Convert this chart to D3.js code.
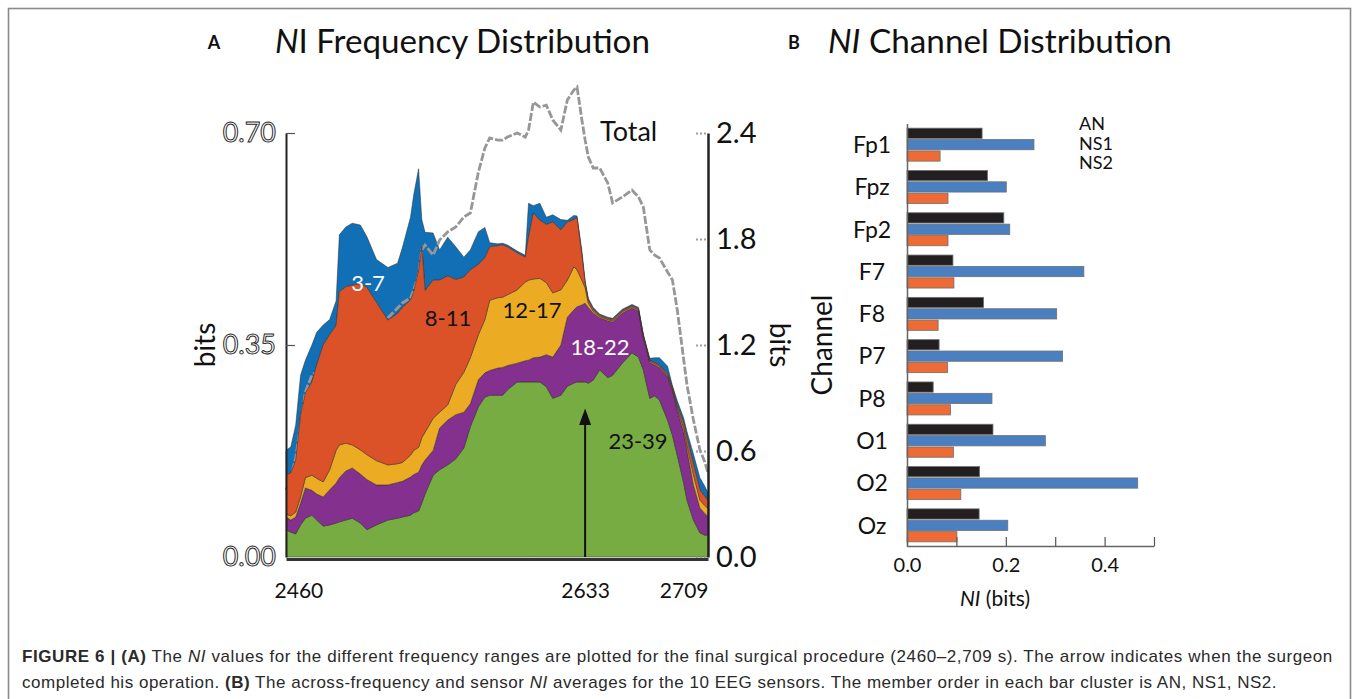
<!DOCTYPE html>
<html>
<head>
<meta charset="utf-8">
<script src="https://cdn.jsdelivr.net/npm/d3@7"></script>
<style>
  body { margin: 0; background: #fff; }
  svg text { font-family: Lato, "Open Sans", sans-serif; }
</style>
</head>
<body>
<script>

// ---- panel A data (bits per frequency band, stacked) ----
var times = [
  2448, 2451, 2454, 2457, 2460, 2464, 2467, 2471, 2475, 2479,
  2481, 2485, 2489, 2494, 2498, 2504, 2511, 2517, 2520, 2525,
  2527, 2530, 2532, 2534, 2539, 2543, 2548, 2553, 2558, 2562,
  2567, 2571, 2574, 2579, 2582, 2585, 2591, 2596, 2598, 2601,
  2605, 2609, 2613, 2618, 2622, 2626, 2628, 2631, 2633, 2635,
  2638, 2642, 2647, 2650, 2656, 2662, 2666, 2669, 2673, 2676,
  2679, 2684, 2687, 2690, 2694, 2696, 2700, 2704, 2707, 2709]

var band23_39 = [
  0.045, 0.041, 0.038, 0.053, 0.064, 0.069, 0.061, 0.051, 0.053, 0.056,
  0.058, 0.061, 0.064, 0.056, 0.045, 0.053, 0.061, 0.064, 0.066, 0.069,
  0.073, 0.076, 0.089, 0.104, 0.135, 0.144, 0.152, 0.162, 0.180, 0.215,
  0.248, 0.264, 0.267, 0.267, 0.267, 0.276, 0.289, 0.289, 0.289, 0.289,
  0.289, 0.281, 0.262, 0.267, 0.282, 0.287, 0.289, 0.289, 0.289, 0.287,
  0.292, 0.309, 0.296, 0.300, 0.320, 0.337, 0.330, 0.309, 0.262, 0.266,
  0.259, 0.226, 0.201, 0.168, 0.122, 0.094, 0.061, 0.040, 0.036, 0.036]

var band18_22 = [
  0.021, 0.020, 0.028, 0.036, 0.050, 0.041, 0.043, 0.048, 0.058, 0.066,
  0.073, 0.081, 0.083, 0.081, 0.083, 0.066, 0.058, 0.059, 0.059, 0.063,
  0.063, 0.064, 0.063, 0.056, 0.041, 0.069, 0.074, 0.073, 0.059, 0.038,
  0.045, 0.040, 0.041, 0.045, 0.046, 0.040, 0.031, 0.035, 0.036, 0.040,
  0.041, 0.053, 0.068, 0.083, 0.114, 0.121, 0.124, 0.127, 0.130, 0.125,
  0.111, 0.086, 0.094, 0.088, 0.083, 0.074, 0.076, 0.053, 0.059, 0.051,
  0.054, 0.071, 0.074, 0.074, 0.084, 0.083, 0.058, 0.041, 0.036, 0.031]

var band12_17 = [
  0.005, 0.007, 0.008, 0.010, 0.017, 0.025, 0.026, 0.025, 0.033, 0.054,
  0.054, 0.046, 0.038, 0.040, 0.041, 0.040, 0.033, 0.031, 0.031, 0.036,
  0.040, 0.041, 0.045, 0.046, 0.053, 0.026, 0.025, 0.050, 0.066, 0.076,
  0.074, 0.088, 0.116, 0.116, 0.116, 0.117, 0.121, 0.130, 0.132, 0.130,
  0.130, 0.119, 0.106, 0.091, 0.061, 0.071, 0.061, 0.041, 0.026, 0.007,
  0.003, 0.002, 0.002, 0.002, 0.002, 0.002, 0.002, 0.002, 0.002, 0.002,
  0.002, 0.002, 0.002, 0.003, 0.007, 0.008, 0.017, 0.013, 0.013, 0.013]

var band8_11 = [
  0.064, 0.071, 0.086, 0.135, 0.140, 0.154, 0.187, 0.226, 0.223, 0.206,
  0.253, 0.258, 0.264, 0.274, 0.276, 0.261, 0.239, 0.248, 0.256, 0.256,
  0.262, 0.292, 0.315, 0.234, 0.228, 0.218, 0.213, 0.173, 0.157, 0.145,
  0.116, 0.102, 0.088, 0.086, 0.086, 0.079, 0.061, 0.041, 0.071, 0.109,
  0.096, 0.096, 0.117, 0.099, 0.096, 0.078, 0.086, 0.041, 0.007, 0.005,
  0.003, 0.002, 0.002, 0.002, 0.002, 0.002, 0.002, 0.002, 0.002, 0.002,
  0.002, 0.003, 0.003, 0.005, 0.008, 0.012, 0.017, 0.017, 0.015, 0.013]

var band3_7 = [
  0.041, 0.043, 0.058, 0.066, 0.054, 0.061, 0.054, 0.033, 0.025, 0.041,
  0.094, 0.099, 0.102, 0.097, 0.084, 0.071, 0.087, 0.083, 0.099, 0.137,
  0.160, 0.168, 0.045, 0.096, 0.078, 0.050, 0.064, 0.054, 0.033, 0.033,
  0.054, 0.050, 0.007, 0.003, 0.003, 0.003, 0.003, 0.003, 0.056, 0.012,
  0.028, 0.012, 0.012, 0.017, 0.003, 0.007, 0.003, 0.008, 0.005, 0.003,
  0.003, 0.002, 0.002, 0.002, 0.002, 0.002, 0.002, 0.002, 0.003, 0.008,
  0.012, 0.013, 0.003, 0.008, 0.008, 0.010, 0.017, 0.020, 0.017, 0.013]

// total NI, read against the right axis
var totalBits = [
  0.379, 0.447, 0.560, 0.747, 0.934, 1.030, 1.047, 0.974, 0.945, 0.974,
  1.013, 1.058, 1.115, 1.160, 1.200, 1.274, 1.353, 1.409, 1.438, 1.466,
  1.511, 1.596, 1.738, 1.766, 1.709, 1.794, 1.840, 1.868, 1.925, 1.947,
  2.179, 2.315, 2.372, 2.360, 2.360, 2.377, 2.400, 2.377, 2.417, 2.575,
  2.547, 2.558, 2.474, 2.417, 2.587, 2.643, 2.660, 2.474, 2.360, 2.264,
  2.202, 2.202, 2.117, 2.004, 2.038, 2.077, 2.038, 1.981, 1.738, 1.709,
  1.692, 1.613, 1.568, 1.398, 1.115, 0.974, 0.775, 0.606, 0.538, 0.475]

var bandKeys   = ['23-39', '18-22', '12-17', '8-11', '3-7']
var bandColors = ['#77ac43', '#84308e', '#ebac24', '#dc5228', '#1170b5']
var leftTicks  = [0, 0.35, 0.70]
var rightTicks = [0, 0.6, 1.2, 1.8, 2.4]
var timeTicks  = [2460, 2633, 2709]
var arrowTime  = 2633

// ---- panel B data ----
var channels = ['Fp1', 'Fpz', 'Fp2', 'F7', 'F8', 'P7', 'P8', 'O1', 'O2', 'Oz']
var anNI  = [0.152, 0.163, 0.196, 0.093, 0.155, 0.065, 0.053, 0.174, 0.147, 0.146]
var ns1NI = [0.257, 0.201, 0.208, 0.358, 0.303, 0.315, 0.172, 0.280, 0.467, 0.204]
var ns2NI = [0.067, 0.083, 0.083, 0.095, 0.063, 0.082, 0.088, 0.094, 0.109, 0.101]
var groupKeys   = ['AN', 'NS1', 'NS2']
var groupColors = ['#231f20', '#4a7fc1', '#ee6b36']
var niTicks  = [0, 0.1, 0.2, 0.3, 0.4, 0.5]
var niLabels = [0, 0.2, 0.4]


var svg = d3.select('body').append('svg')
    .attr('width', 1356)
    .attr('height', 699)

svg.append('rect')
    .attr('x', 8.5).attr('y', 8.5)
    .attr('width', 1342).attr('height', 740)
    .attr('fill', 'none')
    .attr('stroke', '#8a8a8a')
    .attr('stroke-width', 1.6)

// squeeze a text element to a target width by adjusting its font size
function fitWidth(sel, target){
  var fs = +sel.attr('font-size')
  var w = sel.node().getComputedTextLength()
  sel.attr('font-size', (fs * target / w).toFixed(2))
}

// ================= panel A =================
var x  = d3.scaleLinear().domain([2448, 2709]).range([286, 708])
var yL = d3.scaleLinear().domain([0, 0.7]).range([557, 133])
var yR = d3.scaleLinear().domain([0, 2.4]).range([557, 133])
var color = d3.scaleOrdinal().domain(bandKeys).range(bandColors)

var bandArrays = {'23-39': band23_39, '18-22': band18_22, '12-17': band12_17, '8-11': band8_11, '3-7': band3_7}
var rows = times.map(function(t, i){
  var r = {t: t}
  bandKeys.forEach(function(k){ r[k] = bandArrays[k][i] })
  return r
})
var layers = d3.stack().keys(bandKeys)(rows)

var area = d3.area()
    .x(function(d){ return x(d.data.t) })
    .y0(function(d){ return yL(d[0]) })
    .y1(function(d){ return yL(d[1]) })

var gA = svg.append('g')

function drawLayer(layer){
  gA.append('path')
      .datum(layer)
      .attr('d', area)
      .attr('fill', color(layer.key))
      .attr('stroke', '#2a2a2a')
      .attr('stroke-width', 0.5)
}

// blue first so the total line shows over it but hides under the others
drawLayer(layers[4])

var totalLine = d3.line()
    .x(function(d, i){ return x(times[i]) })
    .y(function(d){ return yR(d) })

gA.append('path')
    .datum(totalBits)
    .attr('d', totalLine)
    .attr('fill', 'none')
    .attr('stroke', '#979797')
    .attr('stroke-width', 2.8)
    .attr('stroke-dasharray', '8,2')

layers.slice(0, 4).forEach(drawLayer)

// arrow
var ax = x(arrowTime)
gA.append('line')
    .attr('x1', ax).attr('x2', ax)
    .attr('y1', yL(0)).attr('y2', yL(0.22))
    .attr('stroke', '#111').attr('stroke-width', 2)
gA.append('path')
    .attr('d', 'M' + ax + ',' + yL(0.245) + 'L' + (ax - 6) + ',' + yL(0.218) +
               'L' + (ax + 6) + ',' + yL(0.218) + 'Z')
    .attr('fill', '#111')

// band labels
var bandLabels = [
  {t: '3-7',   x: 368, y: 291, c: '#fff'},
  {t: '8-11',  x: 448, y: 326, c: '#111'},
  {t: '12-17', x: 532, y: 318, c: '#111'},
  {t: '18-22', x: 600, y: 355, c: '#fff'},
  {t: '23-39', x: 638, y: 449, c: '#111'}
]
gA.selectAll('.bandlabel').data(bandLabels).enter().append('text')
    .attr('class', 'bandlabel')
    .attr('x', function(d){ return d.x })
    .attr('y', function(d){ return d.y })
    .attr('text-anchor', 'middle')
    .attr('font-size', 22)
    .attr('fill', function(d){ return d.c })
    .text(function(d){ return d.t })

gA.append('text')
    .attr('x', 600).attr('y', 141)
    .attr('font-size', 27)
    .attr('fill', '#111')
    .text('Total')

// left axis (outlined labels)
var leftAxis = svg.append('g')
    .attr('transform', 'translate(286,0)')
    .call(d3.axisLeft(yL).tickValues(leftTicks).tickFormat(d3.format('.2f'))
      .tickSize(-9).tickSizeOuter(0).tickPadding(10))
leftAxis.select('.domain').attr('stroke', '#222').attr('stroke-width', 2)
leftAxis.selectAll('.tick line').attr('stroke', '#555').attr('stroke-width', 1.2)
leftAxis.selectAll('.tick text')
    .attr('font-size', 27)
    .attr('font-family', 'Lato, sans-serif')
    .attr('fill', '#fff')
    .attr('stroke', '#2a2a2a')
    .attr('stroke-width', 1)
leftAxis.selectAll('.tick').filter(function(d){ return d === 0 }).select('line').remove()

// right axis
var rightAxis = svg.append('g')
    .attr('transform', 'translate(708,0)')
    .call(d3.axisRight(yR).tickValues(rightTicks).tickFormat(d3.format('.1f'))
      .tickSize(0).tickSizeOuter(0).tickPadding(8))
rightAxis.select('.domain').attr('stroke', '#222').attr('stroke-width', 2.5)
rightAxis.selectAll('.tick text').attr('font-size', 29).attr('fill', '#111')
rightAxis.selectAll('.tick').append('line')
    .attr('x1', -12).attr('x2', -2)
    .attr('stroke', '#9d9d9d').attr('stroke-width', 2)
    .attr('stroke-dasharray', '2,2')

// bottom axis
var bottomAxis = svg.append('g')
    .attr('transform', 'translate(0,559)')
    .call(d3.axisBottom(x).tickValues(timeTicks).tickFormat(d3.format('d'))
      .tickSize(0).tickSizeOuter(0).tickPadding(24))
bottomAxis.select('.domain').attr('stroke', '#333').attr('stroke-width', 3.2)
bottomAxis.selectAll('.tick text')
    .attr('font-size', 21)
    .attr('fill', '#111')
    .attr('text-anchor', function(d){ return d === timeTicks[timeTicks.length - 1] ? 'end' : 'middle' })
    .attr('dx', function(d){ return d === timeTicks[0] ? -7 : 0 })

svg.append('text')
    .attr('transform', 'translate(215,345) rotate(-90)')
    .attr('text-anchor', 'middle')
    .attr('font-size', 28)
    .attr('fill', '#111')
    .text('bits')
svg.append('text')
    .attr('transform', 'translate(770,345) rotate(90)')
    .attr('text-anchor', 'middle')
    .attr('font-size', 28)
    .attr('fill', '#111')
    .text('bits')

// title A
svg.append('text')
    .attr('x', 214).attr('y', 49)
    .attr('text-anchor', 'middle')
    .attr('font-family', '"Liberation Sans", Arial, sans-serif')
    .attr('font-weight', 'bold')
    .attr('font-size', 18)
    .attr('fill', '#111')
    .text('A')
var tA = svg.append('text')
    .attr('x', 275).attr('y', 53)
    .attr('font-size', 35)
    .attr('fill', '#111')
tA.append('tspan').attr('font-style', 'italic').text('N')
tA.append('tspan').text('I Frequency Distribution')
fitWidth(tA, 375)

// ================= panel B =================
var xB = d3.scaleLinear().domain([0, 0.5]).range([907, 1154])
var yB = d3.scaleBand().domain(channels).range([123.5, 546.5])
    .paddingInner(0.22).paddingOuter(0.11)
var yInner = d3.scaleBand().domain(groupKeys).range([0, yB.bandwidth()]).paddingInner(0.1)
var colorB = d3.scaleOrdinal().domain(groupKeys).range(groupColors)

var groupVals = {AN: anNI, NS1: ns1NI, NS2: ns2NI}
var gB = svg.append('g')

var groups = gB.selectAll('.chan').data(channels).enter().append('g')
    .attr('class', 'chan')
    .attr('transform', function(d){ return 'translate(0,' + yB(d) + ')' })

groups.selectAll('rect')
    .data(function(ch, i){ return groupKeys.map(function(k){ return {key: k, v: groupVals[k][i]} }) })
    .enter().append('rect')
    .attr('x', xB(0))
    .attr('y', function(d){ return yInner(d.key) })
    .attr('width', function(d){ return xB(d.v) - xB(0) })
    .attr('height', yInner.bandwidth())
    .attr('fill', function(d){ return colorB(d.key) })
    .attr('stroke', '#6f6f6f')
    .attr('stroke-width', 0.8)

var axB = gB.append('g')
    .attr('transform', 'translate(0,546)')
    .call(d3.axisBottom(xB).tickValues(niTicks)
      .tickFormat(function(d){ return niLabels.indexOf(d) >= 0 ? d3.format('.1f')(d) : '' })
      .tickSize(-9).tickSizeOuter(0).tickPadding(12))
axB.select('.domain').attr('stroke', '#666').attr('stroke-width', 1.5)
axB.selectAll('.tick line').attr('stroke', '#555').attr('stroke-width', 1.2)
axB.selectAll('.tick text').attr('font-size', 20).attr('fill', '#111')

var ayB = gB.append('g')
    .attr('transform', 'translate(907,0)')
    .call(d3.axisLeft(yB).tickSize(0).tickSizeOuter(0).tickPadding(0))
ayB.select('.domain').attr('stroke', '#666').attr('stroke-width', 1.5)
ayB.selectAll('.tick text')
    .attr('x', -35)
    .attr('dy', '0.36em')
    .attr('text-anchor', 'middle')
    .attr('font-size', 23)
    .attr('fill', '#111')

// legend (text only)
gB.selectAll('.leg').data(groupKeys).enter().append('text')
    .attr('class', 'leg')
    .attr('x', 1079)
    .attr('y', function(d, i){ return 130 + i * 19.5 })
    .attr('font-size', 18)
    .attr('fill', '#111')
    .text(function(d){ return d })

svg.append('text')
    .attr('transform', 'translate(832,345) rotate(-90)')
    .attr('text-anchor', 'middle')
    .attr('font-size', 28)
    .attr('fill', '#111')
    .text('Channel')

var xlab = svg.append('text')
    .attr('x', 995).attr('y', 606)
    .attr('text-anchor', 'middle')
    .attr('font-size', 21)
    .attr('fill', '#111')
xlab.append('tspan').attr('font-style', 'italic').text('NI')
xlab.append('tspan').text(' (bits)')

svg.append('text')
    .attr('x', 794).attr('y', 49)
    .attr('text-anchor', 'middle')
    .attr('font-family', '"Liberation Sans", Arial, sans-serif')
    .attr('font-weight', 'bold')
    .attr('font-size', 18)
    .attr('fill', '#111')
    .text('B')
var tB = svg.append('text')
    .attr('x', 828).attr('y', 53)
    .attr('font-size', 35)
    .attr('fill', '#111')
tB.append('tspan').attr('font-style', 'italic').text('NI')
tB.append('tspan').text(' Channel Distribution')
fitWidth(tB, 344)

// ================= caption =================
var captionLines = [
  {y: 662, width: 1312, parts: [
    {t: 'FIGURE 6  |  (A)', b: true},
    {t: ' The '},
    {t: 'NI', i: true},
    {t: ' values for the different frequency ranges are plotted for the final surgical procedure (2460\u20132,709 s). The arrow indicates when the surgeon'}
  ]},
  {y: 688, width: 1255, parts: [
    {t: 'completed his operation. '},
    {t: '(B)', b: true},
    {t: ' The across-frequency and sensor '},
    {t: 'NI', i: true},
    {t: ' averages for the 10 EEG sensors. The member order in each bar cluster is AN, NS1, NS2.'}
  ]}
]
captionLines.forEach(function(line){
  var t = svg.append('text')
      .attr('x', 22).attr('y', line.y)
      .attr('font-size', 17)
      .attr('fill', '#2a2a2a')
      .style('font-family', '"Liberation Sans Narrow", "Liberation Sans", Arial, sans-serif')
  line.parts.forEach(function(p){
    t.append('tspan')
        .attr('font-weight', p.b ? 'bold' : null)
        .attr('font-style', p.i ? 'italic' : null)
        .text(p.t)
  })
  var n = t.text().length
  var w = t.node().getComputedTextLength()
  t.attr('letter-spacing', ((line.width - w) / n).toFixed(3))
})

</script>
</body>
</html>
